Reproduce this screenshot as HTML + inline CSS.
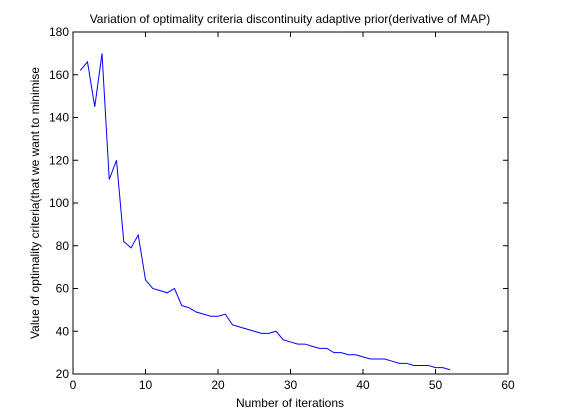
<!DOCTYPE html>
<html><head><meta charset="utf-8"><style>
html,body{margin:0;padding:0;background:#fff;}
svg{display:block;font-family:"Liberation Sans",Arial,sans-serif;}
</style></head><body>
<svg id="chart" width="561" height="420" viewBox="0 0 561 420">
<rect x="0" y="0" width="561" height="420" fill="#fff"/>
<text x="290" y="23" font-size="12" text-anchor="middle">Variation of optimality criteria discontinuity adaptive prior(derivative of MAP)</text>
<text x="290" y="407" font-size="12" text-anchor="middle">Number of iterations</text>
<text transform="translate(39,203) rotate(-90)" font-size="12" text-anchor="middle">Value of optimality criteria(that we want to minimise</text>
<g id="axes"></g>
<polyline id="series" fill="none" stroke="#0000ff" stroke-width="1"/>
</svg>
<script>
const xTicks=[0,10,20,30,40,50,60];
const yTicks=[20,40,60,80,100,120,140,160,180];
const iterations=[1,2,3,4,5,6,7,8,9,10,11,12,13,14,15,16,17,18,19,20,21,22,23,24,25,26,27,28,29,30,31,32,33,34,35,36,37,38,39,40,41,42,43,44,45,46,47,48,49,50,51,52];
const values=[162,166,145,170,111,120,82,79,85,64,60,59,58,60,52,51,49,48,47,47,48,43,42,41,40,39,39,40,36,35,34,34,33,32,32,30,30,29,29,28,27,27,27,26,25,25,24,24,24,23,23,22];
const L=73,R=508,T=32,B=374,xMin=0,xMax=60,yMin=20,yMax=180;
const sx=v=>L+(v-xMin)/(xMax-xMin)*(R-L);
const sy=v=>B-(v-yMin)/(yMax-yMin)*(B-T);
const NS="http://www.w3.org/2000/svg";
const g=document.getElementById('axes');
function mk(t,a){const e=document.createElementNS(NS,t);for(const k in a)e.setAttribute(k,a[k]);g.appendChild(e);return e;}
const box=mk('rect',{x:L,y:T,width:R-L,height:B-T,fill:'none',stroke:'#000','stroke-width':1});


xTicks.forEach(v=>{const x=sx(v);
mk('line',{x1:x,y1:B,x2:x,y2:B-5,stroke:'#000'});mk('line',{x1:x,y1:T,x2:x,y2:T+5,stroke:'#000'});
const t=mk('text',{x:x,y:B+15,'font-size':12,'text-anchor':'middle'});t.textContent=v;

});
yTicks.forEach(v=>{const y=sy(v);
mk('line',{x1:L,y1:y,x2:L+5,y2:y,stroke:'#000'});mk('line',{x1:R,y1:y,x2:R-5,y2:y,stroke:'#000'});
const t=mk('text',{x:L-4,y:y+4,'font-size':12,'text-anchor':'end'});t.textContent=v;

});
document.getElementById('series').setAttribute('points',iterations.map((x,i)=>sx(x)+','+sy(values[i])).join(' '));
</script>
</body></html>
